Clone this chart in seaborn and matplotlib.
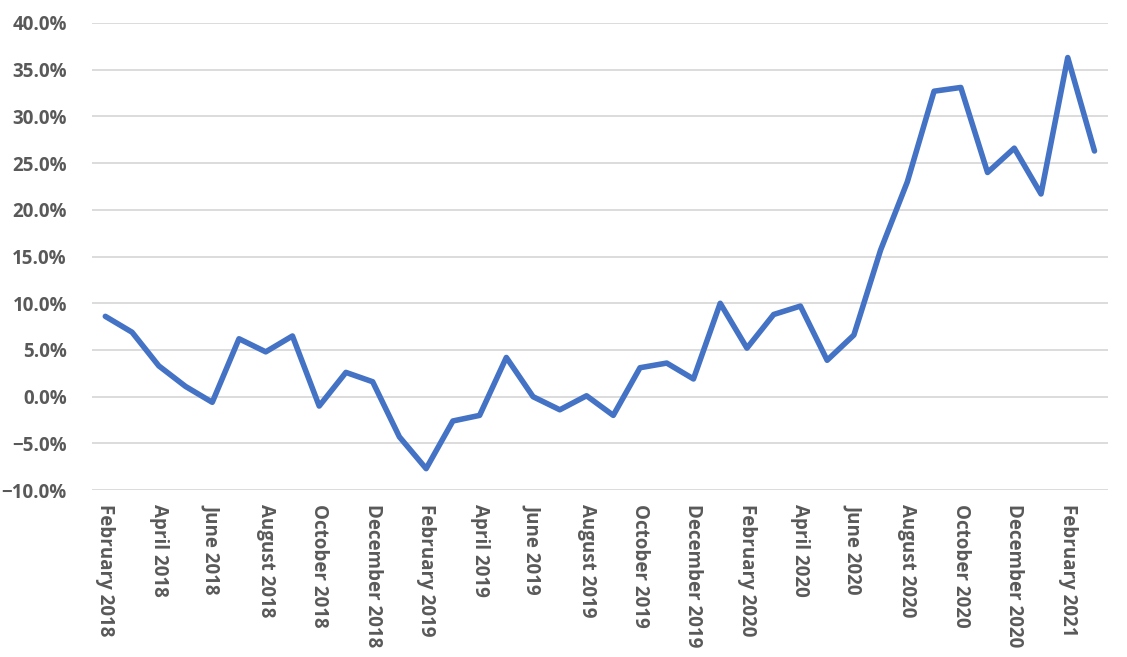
import numpy as np
import pandas as pd
import matplotlib
matplotlib.use('Agg')
import matplotlib.pyplot as plt
import seaborn as sns
from matplotlib.ticker import PercentFormatter

# Monthly series, Feb 2018 - Mar 2021
months = [
    'February 2018', 'March 2018', 'April 2018', 'May 2018', 'June 2018',
    'July 2018', 'August 2018', 'September 2018', 'October 2018',
    'November 2018', 'December 2018', 'January 2019', 'February 2019',
    'March 2019', 'April 2019', 'May 2019', 'June 2019', 'July 2019',
    'August 2019', 'September 2019', 'October 2019', 'November 2019',
    'December 2019', 'January 2020', 'February 2020', 'March 2020',
    'April 2020', 'May 2020', 'June 2020', 'July 2020', 'August 2020',
    'September 2020', 'October 2020', 'November 2020', 'December 2020',
    'January 2021', 'February 2021', 'March 2021',
]
values = [
    8.6, 6.9, 3.3, 1.1, -0.6, 6.2, 4.8, 6.5, -1.0, 2.6, 1.6, -4.3, -7.7,
    -2.6, -2.0, 4.2, 0.0, -1.4, 0.1, -2.0, 3.1, 3.6, 1.9, 10.0, 5.2, 8.8,
    9.7, 3.9, 6.6, 15.7, 23.0, 32.7, 33.1, 24.0, 26.6, 21.7, 36.3, 26.3,
]
y_ticks = [-10, -5, 0, 5, 10, 15, 20, 25, 30, 35, 40]

df = pd.DataFrame({'month': months, 'value': values})
df['pos'] = np.arange(len(df))

sns.set_theme(style='white')
plt.rcParams['font.family'] = ['Open Sans', 'DejaVu Sans']

fig = plt.figure(figsize=(11.27, 6.57), dpi=100)
ax = fig.add_axes([0.0816, 0.254, 0.9014, 0.711])

sns.lineplot(data=df, x='pos', y='value', ax=ax, color='#4472C4',
             linewidth=4.0, solid_joinstyle='round', solid_capstyle='round')

ax.set_xlim(-0.5, len(df) - 0.5)
ax.set_ylim(-10, 40)
ax.set_yticks(y_ticks)
ax.yaxis.set_major_formatter(PercentFormatter(decimals=1))
ax.grid(axis='y', color='#d9d9d9', linewidth=1.3)
ax.set_axisbelow(True)

tick_pos = df['pos'][::2]
ax.set_xticks(tick_pos)
ax.set_xticklabels(df['month'][::2], rotation=-90, va='top', ha='center')

ax.tick_params(axis='both', length=0, labelsize=13.5, labelcolor='#595959')
ax.tick_params(axis='y', pad=18)
ax.tick_params(axis='x', pad=10)
for lbl in ax.get_xticklabels() + ax.get_yticklabels():
    lbl.set_fontweight('bold')

ax.set_xlabel('')
ax.set_ylabel('')
sns.despine(ax=ax, left=True, bottom=True)

fig.savefig('out.png', dpi=100)
plt.close()
